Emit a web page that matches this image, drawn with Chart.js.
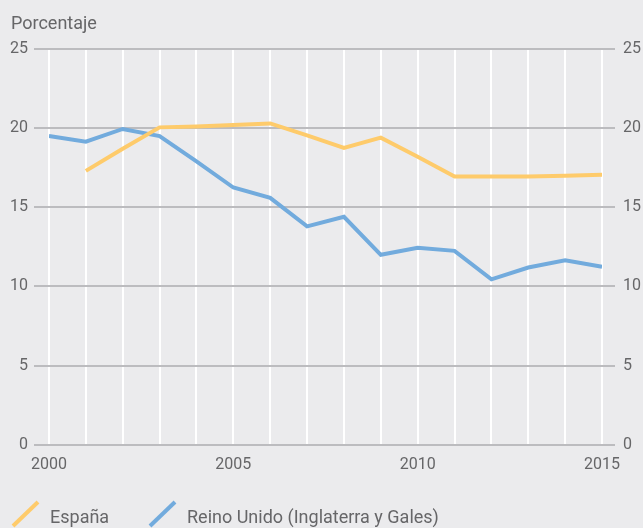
<!DOCTYPE html>
<html>
<head>
<meta charset="utf-8">
<script src="https://cdn.jsdelivr.net/npm/chart.js@4"></script>
<style>
  html, body { margin: 0; padding: 0; background: #ebebed; }
  #wrap { width: 643px; height: 528px; position: relative; }
</style>
</head>
<body>
<div id="wrap"><canvas id="c" width="643" height="528"></canvas></div>
<script>
const years = [2000, 2001, 2002, 2003, 2004, 2005, 2006, 2007, 2008, 2009, 2010, 2011, 2012, 2013, 2014, 2015];
const espana = [null, 17.3, 18.7, 20.05, 20.1, 20.2, 20.3, 19.55, 18.75, 19.4, 18.2, 16.95, 16.95, 16.95, 17.0, 17.05];
const reinoUnido = [19.5, 19.15, 19.95, 19.5, 17.9, 16.25, 15.6, 13.8, 14.4, 12.0, 12.45, 12.25, 10.45, 11.2, 11.65, 11.25];
const yTicks = [0, 5, 10, 15, 20, 25];
const xLabelYears = [2000, 2005, 2010, 2015];
const seriesNames = ['España', 'Reino Unido (Inglaterra y Gales)'];
const axisTitle = 'Porcentaje';

const ORANGE = '#fecb6b';
const BLUE = '#72abdd';
const TEXT = '#666668';
const FONT = 'Roboto, "Liberation Sans", sans-serif';

const toPoints = vals => years.map((y, i) => ({ x: y, y: vals[i] }));

// Unit label above the left axis and the slash-style legend under the plot
const decorations = {
  id: 'decorations',
  afterDraw(chart) {
    const ctx = chart.ctx;
    ctx.save();
    ctx.fillStyle = TEXT;
    ctx.font = '18px ' + FONT;
    ctx.textBaseline = 'alphabetic';
    ctx.textAlign = 'left';
    ctx.fillText(axisTitle, 11, 29);

    let x = 13;
    chart.data.datasets.forEach(ds => {
      ctx.strokeStyle = ds.borderColor;
      ctx.lineWidth = 4;
      ctx.lineCap = 'butt';
      ctx.beginPath();
      ctx.moveTo(x, 526);
      ctx.lineTo(x + 25, 502);
      ctx.stroke();
      ctx.fillStyle = TEXT;
      ctx.font = '18px ' + FONT;
      ctx.textBaseline = 'alphabetic';
      ctx.fillText(ds.label, x + 37, 523);
      x += 137;
    });
    ctx.restore();
  }
};

new Chart(document.getElementById('c'), {
  type: 'line',
  data: {
    datasets: [
      { label: seriesNames[0], data: toPoints(espana), borderColor: ORANGE, backgroundColor: ORANGE,
        borderWidth: 4, pointRadius: 0, tension: 0, spanGaps: false },
      { label: seriesNames[1], data: toPoints(reinoUnido), borderColor: BLUE, backgroundColor: BLUE,
        borderWidth: 4, pointRadius: 0, tension: 0 }
    ]
  },
  options: {
    responsive: false,
    animation: false,
    layout: { padding: { top: 49, bottom: 42, left: 4, right: -6 } },
    plugins: { legend: { display: false }, tooltip: { enabled: false }, title: { display: false } },
    scales: {
      x: {
        type: 'linear', min: years[0], max: years[years.length - 1],
        border: { display: false },
        grid: { color: '#ffffff', lineWidth: 2, drawTicks: false },
        afterBuildTicks(scale) { scale.ticks = years.map(v => ({ value: v })); },
        ticks: {
          autoSkip: false, maxRotation: 0, padding: 11,
          color: TEXT, font: { family: FONT, size: 16 },
          callback: v => xLabelYears.includes(v) ? String(v) : ''
        }
      },
      y: {
        position: 'left', min: 0, max: 25,
        border: { display: false },
        grid: { color: '#bcbcbf', lineWidth: 2, tickLength: 15 },
        afterBuildTicks(scale) { scale.ticks = yTicks.map(v => ({ value: v })); },
        ticks: { padding: 6, color: TEXT, font: { family: FONT, size: 16 } }
      },
      y2: {
        position: 'right', min: 0, max: 25,
        border: { display: false },
        grid: { color: '#bcbcbf', lineWidth: 2, tickLength: 13, drawOnChartArea: false },
        afterBuildTicks(scale) { scale.ticks = yTicks.map(v => ({ value: v })); },
        ticks: { padding: 8, color: TEXT, font: { family: FONT, size: 16 } }
      }
    }
  },
  plugins: [decorations]
});
</script>
</body>
</html>
